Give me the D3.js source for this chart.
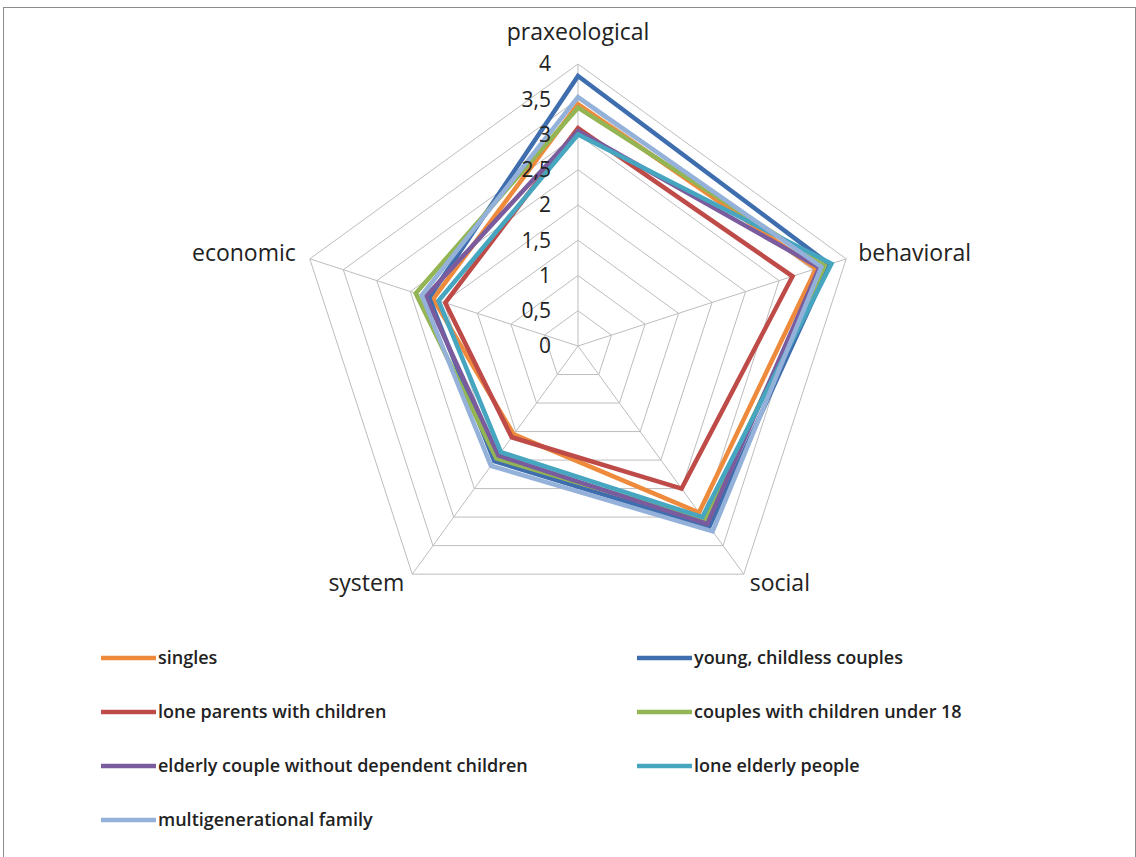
<!DOCTYPE html>
<html>
<head>
<meta charset="utf-8">
<script src="https://cdn.jsdelivr.net/npm/d3@7"></script>
<style>
  html, body { margin: 0; padding: 0; background: #fff; }
  svg { display: block; }
</style>
</head>
<body>
<svg id="chart" width="1136" height="857"></svg>
<script>
// Axes of the radar, clockwise from the top
const axes = ["praxeological", "behavioral", "social", "system", "economic"];

// Household types and their colours
const seriesNames = [
  "singles",
  "young, childless couples",
  "lone parents with children",
  "couples with children under 18",
  "elderly couple without dependent children",
  "lone elderly people",
  "multigenerational family"
];
const seriesColors = ["#EE8A3C", "#3F6EAE", "#BE4B48", "#93B553", "#7A5C9E", "#47A6BF", "#94B1DA"];

// Scores per axis (praxeological, behavioral, social, system, economic)
const singles      = [3.43, 3.55, 2.92, 1.55, 2.16];
const youngCouples = [3.83, 3.75, 3.17, 2.02, 2.22];
const loneParents  = [3.09, 3.20, 2.50, 1.60, 1.98];
const couplesKids  = [3.38, 3.68, 3.05, 1.97, 2.42];
const elderlyPair  = [3.05, 3.60, 3.12, 1.92, 2.27];
const loneElderly  = [3.00, 3.78, 3.00, 1.86, 2.08];
const multiGen     = [3.53, 3.63, 3.25, 2.10, 2.33];
const seriesValues = [singles, youngCouples, loneParents, couplesKids, elderlyPair, loneElderly, multiGen];

// Radial ticks
const tickValues = [0, 0.5, 1, 1.5, 2, 2.5, 3, 3.5, 4];
const tickLabels = ["0", "0,5", "1", "1,5", "2", "2,5", "3", "3,5", "4"];

const svg = d3.select("#chart");
const cx = 578, cy = 346;
const r = d3.scaleLinear().domain([0, 4]).range([0, 282]);
const angle = d3.scalePoint().domain(axes).range([0, 2 * Math.PI * (axes.length - 1) / axes.length]);
const pt = (axis, v) => {
  const a = angle(axis);
  return [cx + r(v) * Math.sin(a), cy - r(v) * Math.cos(a)];
};

// Outer frame
svg.append("rect")
  .attr("x", 3.5).attr("y", 7.5).attr("width", 1132).attr("height", 870)
  .attr("fill", "none").attr("stroke", "#8c8c8c").attr("stroke-width", 1);

const grid = svg.append("g").attr("fill", "none").attr("stroke", "#BDBDBD").attr("stroke-width", 1);

// Concentric pentagons
tickValues.filter(v => v > 0).forEach(v => {
  grid.append("path")
    .attr("d", d3.line()(axes.map(a => pt(a, v))) + "Z");
});
// Spokes
axes.forEach(a => {
  const [x, y] = pt(a, 4);
  grid.append("line").attr("x1", cx).attr("y1", cy).attr("x2", x).attr("y2", y);
});

// Series polygons
const line = d3.line();
seriesValues.forEach((vals, i) => {
  svg.append("path")
    .attr("d", line(axes.map((a, j) => pt(a, vals[j]))) + "Z")
    .attr("fill", "none")
    .attr("stroke", seriesColors[i])
    .attr("stroke-width", 4.5)
    .attr("stroke-linejoin", "miter");
});

// Tick labels along the top spoke
const font = "'Open Sans', Lato, sans-serif";
svg.append("g").selectAll("text")
  .data(tickValues)
  .join("text")
  .attr("x", cx - 27)
  .attr("y", v => cy - r(v))
  .attr("dy", "0.35em")
  .attr("text-anchor", "end")
  .attr("font-family", font)
  .attr("font-size", 21)
  .attr("fill", "#222")
  .text((v, i) => tickLabels[i]);

// Axis labels
const axisLabelPos = {
  praxeological: { dx: 0, dy: -32, anchor: "middle" },
  behavioral: { dx: 12, dy: -6, anchor: "start" },
  social: { dx: 6, dy: 9, anchor: "start" },
  system: { dx: -8, dy: 9, anchor: "end" },
  economic: { dx: -14, dy: -6, anchor: "end" }
};
axes.forEach(a => {
  const [x, y] = pt(a, 4);
  const p = axisLabelPos[a];
  svg.append("text")
    .attr("x", x + p.dx).attr("y", y + p.dy)
    .attr("dy", "0.35em")
    .attr("text-anchor", p.anchor)
    .attr("font-family", font)
    .attr("font-size", 23)
    .attr("fill", "#222")
    .text(a);
});

// Legend, two columns
const legend = svg.append("g");
const colX = [101, 637];
const rowY = [658, 712, 766, 820];
seriesNames.forEach((name, i) => {
  const x = colX[i % 2], y = rowY[Math.floor(i / 2)];
  legend.append("line")
    .attr("x1", x).attr("x2", x + 55).attr("y1", y).attr("y2", y)
    .attr("stroke", seriesColors[i]).attr("stroke-width", 4.5);
  legend.append("text")
    .attr("x", x + 57).attr("y", y)
    .attr("dy", "0.35em")
    .attr("font-family", font)
    .attr("font-weight", 600)
    .attr("font-size", 18)
    .attr("fill", "#222")
    .text(name);
});
</script>
</body>
</html>
